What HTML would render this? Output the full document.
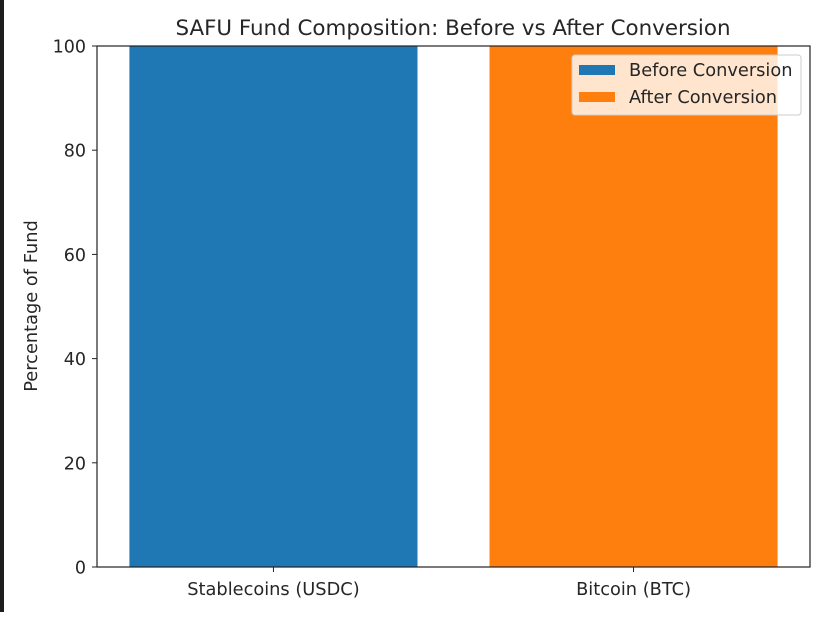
<!DOCTYPE html>
<html><head><meta charset="utf-8"><style>
body{margin:0;background:#fff;}
svg text{font-family:"DejaVu Sans","Liberation Sans",sans-serif;fill:#262626;}
</style></head><body>
<svg width="829" height="612">
<rect x="0" y="0" width="4" height="612" fill="#1e1e1e"/>
<text x="453" y="35" font-size="21.4" text-anchor="middle">SAFU Fund Composition: Before vs After Conversion</text>
<g id="plot"></g>
<text transform="translate(37,306) rotate(-90)" font-size="17.8" text-anchor="middle">Percentage of Fund</text>
<g>
<rect x="572" y="55" width="229" height="60" rx="3" fill="#fff" fill-opacity="0.8" stroke="#ccc"/>
<rect x="579" y="65" width="36" height="10" fill="#1f77b4"/>
<text x="629" y="76" font-size="17.8">Before Conversion</text>
<rect x="579" y="92" width="36" height="10" fill="#ff7f0e"/>
<text x="629" y="103" font-size="17.8">After Conversion</text>
</g>
</svg>
<script>
const categories=["Stablecoins (USDC)","Bitcoin (BTC)"];
const values=[100,100];
const colors=["#1f77b4","#ff7f0e"];
const yTicks=[0,20,40,60,80,100];
const L=97,R=810,T=46,B=567;
const xMin=-0.49,xMax=1.49;
const xs=v=>L+(v-xMin)/(xMax-xMin)*(R-L);
const ys=v=>B-(v/100)*(B-T);
const NS="http://www.w3.org/2000/svg";
const g=document.getElementById('plot');
function mk(t,a){const e=document.createElementNS(NS,t);for(const k in a)e.setAttribute(k,a[k]);g.appendChild(e);return e;}
const bw=0.8*(R-L)/(xMax-xMin);
values.forEach((v,i)=>{
 const r=mk('rect',{x:xs(i)-bw/2,y:ys(v),width:bw,height:ys(0)-ys(v),fill:colors[i]});
 
 
 const tk=mk('line',{x1:xs(i),x2:xs(i),y1:B,y2:B+5,stroke:'#222'});
 
 
 const t=mk('text',{x:xs(i),y:B+28,'font-size':17.8,'text-anchor':'middle'});
 t.textContent=categories[i];
 
 
});
yTicks.forEach(v=>{
 const tk=mk('line',{x1:L-5,x2:L,y1:ys(v),y2:ys(v),stroke:'#222'});
 
 
 const t=mk('text',{x:L-11,y:ys(v)+6.5,'font-size':17.5,'text-anchor':'end'});
 t.textContent=v;
 
 
});
const f=mk('rect',{x:L,y:T,width:R-L,height:B-T,fill:'none',stroke:'#222','stroke-width':1.2});


</script>
</body></html>
